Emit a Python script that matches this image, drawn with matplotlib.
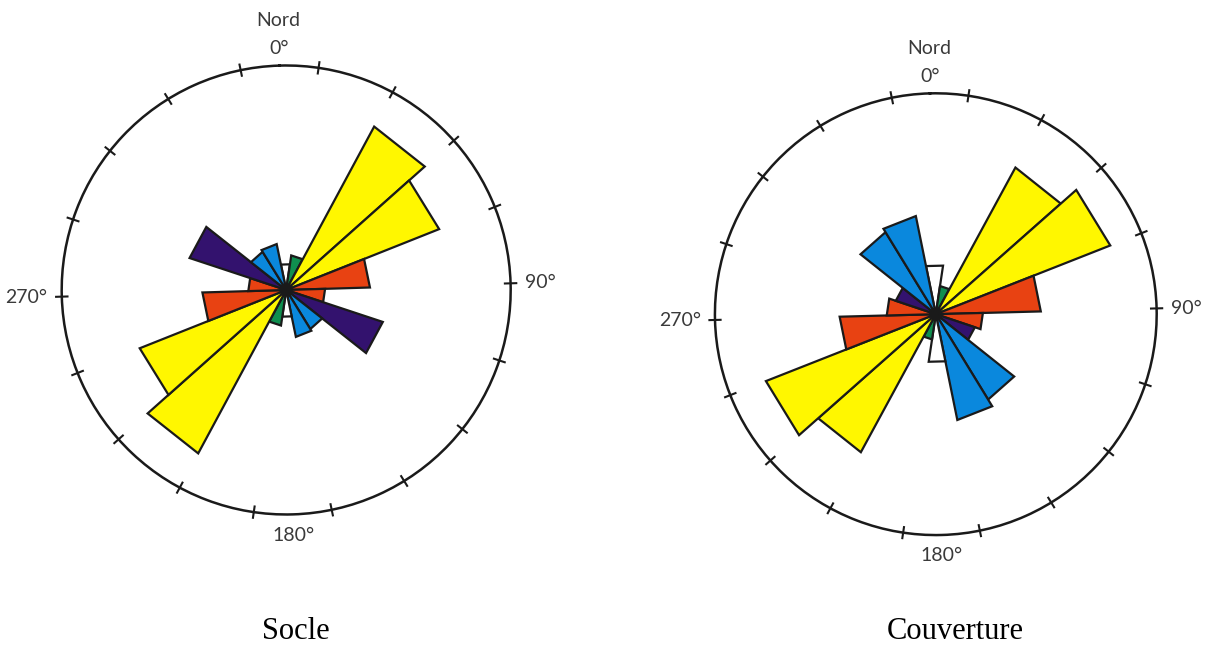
import numpy as np
import matplotlib.pyplot as plt

# bin centres (degrees from North, clockwise), 20 degree classes
bins = np.arange(0, 360, 20)
families = ['white', 'green', 'yellow', 'yellow', 'red', 'red',
            'purple', 'blue', 'blue'] * 2

# sector lengths (frequency, outer circle = 225)
socle = [26, 35, 186, 165, 84, 39, 102, 46, 48,
         27, 36, 186, 158, 84, 38, 102, 45, 47]
couverture = [50, 29, 170, 191, 107, 48, 42, 102, 110,
              49, 26, 160, 186, 98, 50, 43, 98, 102]

# graduation marks on the outer circle
tick_deg = np.arange(10, 360, 20)

palette = {'white': '#ffffff', 'green': '#0f8f4f', 'yellow': '#fff700',
           'red': '#e84212', 'purple': '#33126e', 'blue': '#0a88dd'}

RMAX = 225
label_font = dict(family=['Lato', 'DejaVu Sans'], weight='normal',
                  fontsize=14, color='#3a3a3a')

fig = plt.figure(figsize=(12.05, 6.47), dpi=100)


def rose(rect, values, offset):
    ax = fig.add_axes(rect, projection='polar')
    ax.set_theta_zero_location('N', offset=offset)
    ax.set_theta_direction(-1)
    for b, v, fam in zip(bins, values, families):
        # straight-edged triangle instead of an arc
        th = np.deg2rad([b, b - 10, b + 10])
        ax.fill(th, [0, v, v], facecolor=palette[fam], edgecolor='#1a1a1a',
                lw=1.6, joinstyle='miter')
    # small crossing marks on the circle
    for t in np.deg2rad(tick_deg):
        ax.plot([t, t], [RMAX * 0.97, RMAX * 1.03], color='#1a1a1a',
                lw=1.5, clip_on=False, solid_capstyle='butt')
    ax.set_ylim(0, RMAX)
    ax.set_yticks([])
    ax.set_xticks([])
    ax.grid(False)
    ax.spines['polar'].set_linewidth(1.8)
    ax.spines['polar'].set_color('#1a1a1a')

    ax.text(0, RMAX * 1.04, '0°', ha='center', va='bottom', **label_font)
    ax.text(0, RMAX * 1.165, 'Nord', ha='center', va='bottom', **label_font)
    ax.text(np.pi / 2, RMAX * 1.065, '90°', ha='left', va='center', **label_font)
    ax.text(np.pi, RMAX * 1.055, '180°', ha='center', va='top', **label_font)
    ax.text(3 * np.pi / 2, RMAX * 1.065, '270°', ha='right', va='center', **label_font)
    return ax


rose([0.0512, 0.2048, 0.3726, 0.694], socle, 1.7)
rose([0.5933, 0.173, 0.3666, 0.6828], couverture, 1.5)

fig.text(0.2454, 0.0232, 'Socle', family='Liberation Serif', fontsize=22,
         ha='center', va='center')
fig.text(0.7925, 0.0232, 'Couverture', family='Liberation Serif', fontsize=22,
         ha='center', va='center')

fig.savefig('out.png', dpi=100, facecolor='white')
